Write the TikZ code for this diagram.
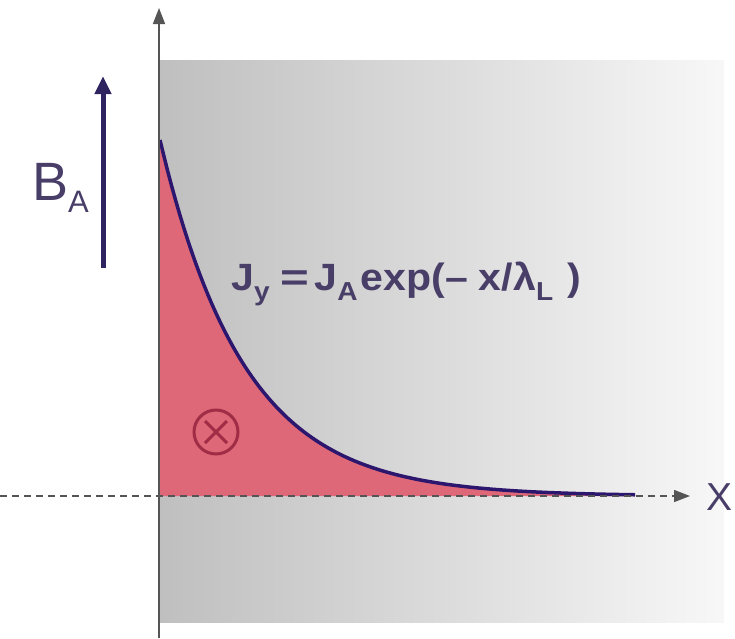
\documentclass[tikz,border=0pt]{standalone}
\usepackage{fontspec}
\usepackage{graphicx}
\setmainfont{Liberation Sans}
\usetikzlibrary{arrows.meta,calc}
\definecolor{navy}{RGB}{48,36,96}
\definecolor{curvecol}{RGB}{45,22,110}
\definecolor{fillcol}{RGB}{222,104,120}
\definecolor{axiscol}{RGB}{85,85,85}
\definecolor{txtcol}{RGB}{72,62,104}
\definecolor{crosscol}{RGB}{160,45,70}
\tikzset{
  axis/.style={axiscol, line width=1.6pt, -{Triangle[length=16pt,width=12pt]}},
  dashaxis/.style={axiscol, line width=1.4pt, dash pattern=on 7pt off 5pt, -{Triangle[length=16pt,width=12pt]}},
  field/.style={navy, line width=5pt, -{Triangle[length=18pt,width=16pt]}},
}
\newcommand{\sbx}[1]{\raisebox{-10pt}{\fontsize{26}{26}\selectfont #1}}
\begin{document}
\begin{tikzpicture}[x=1pt,y=-1pt]
\useasboundingbox (0,0) rectangle (735,638);
% gray slab
\shade[left color=black!25, right color=black!3] (160,60) rectangle (724,622);
% filled current region
\fill[fillcol] (160,496) -- plot[domain=160:635, samples=120] (\x,{496-356*exp(-(\x-160)/84)}) -- (635,496) -- cycle;
\draw[curvecol, line width=3.5pt] plot[domain=160:635, samples=120] (\x,{496-356*exp(-(\x-160)/84)});
% axes
\coordinate (ybot) at (159,638);
\coordinate (ytop) at (159,8);
\draw[axis] (ybot) -- (ytop);
\coordinate (xl) at (0,496);
\coordinate (xr) at (690,496);
\draw[dashaxis] (xl) -- (xr);
\node[txtcol, font=\fontsize{39}{39}\selectfont, anchor=west] (xlab) at (703,497) {X};
% applied field
\coordinate (bbot) at (103,268);
\coordinate (btop) at (103,76);
\draw[field] (bbot) -- (btop);
\node[txtcol, font=\fontsize{54}{54}\selectfont, anchor=base west, inner sep=0pt] (blab) at (32,200) {B\raisebox{-12pt}{\fontsize{31}{31}\selectfont A}};
% formula
\node[txtcol, font=\bfseries\fontsize{38}{38}\selectfont, anchor=base west, inner sep=0pt] (form) at (231,290)
 {\scalebox{1.08}[1]{J\sbx{y}\kern10pt\scalebox{1.2}[1]{=}\kern5pt J\sbx{A}\kern3pt exp(–\kern10pt x/λ\sbx{L}\kern13pt)}};
% current into page
\node[draw=crosscol, circle, line width=3pt, minimum size=44pt, inner sep=0pt] (cur) at (216,432) {};
\draw[crosscol, line width=3pt] ($(cur.center)+(-11,-11)$) -- ($(cur.center)+(11,11)$);
\draw[crosscol, line width=3pt] ($(cur.center)+(-11,11)$) -- ($(cur.center)+(11,-11)$);
\end{tikzpicture}
\end{document}
